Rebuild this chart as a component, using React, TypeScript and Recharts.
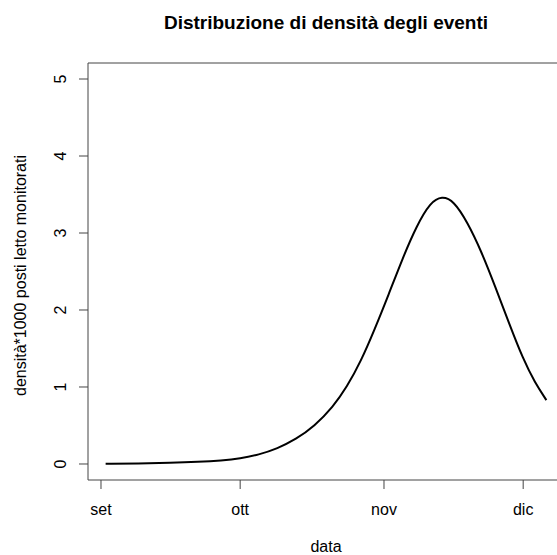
import { LineChart, Line, XAxis, YAxis, ReferenceArea } from 'recharts';

// giorni dal 1 settembre
const days = [1, 8, 15, 21, 26, 30, 34, 38, 42, 46, 50, 53, 56, 59, 62, 65, 68, 71, 73.5, 76, 79, 82, 85, 88, 91, 93.5, 96];
const density = [
  0.002, 0.006, 0.014, 0.027, 0.045, 0.07, 0.12, 0.2, 0.32, 0.49, 0.74, 1.0, 1.33, 1.75, 2.2,
  2.67, 3.09, 3.4, 3.48, 3.42, 3.14, 2.76, 2.3, 1.82, 1.36, 1.06, 0.83,
];

const monthTicks = [0, 30, 61, 91];
const monthLabels = ['set', 'ott', 'nov', 'dic'];
const yTicks = [0, 1, 2, 3, 4, 5];

const X_DOMAIN: [number, number] = [-2.8, 99.8];
const Y_DOMAIN: [number, number] = [-0.208, 5.208];

const FONT = '"Liberation Sans", Arial, sans-serif';
const AXIS = '#444';

const data = days.map((d, i) => ({ day: d, value: density[i] }));

function YTick(props: any) {
  const { x, y, payload } = props;
  return (
    <text
      x={x}
      y={y}
      transform={`rotate(-90 ${x} ${y})`}
      textAnchor="middle"
      fontFamily={FONT}
      fontSize={16}
      fill="#000"
    >
      {payload.value}
    </text>
  );
}

export default function App() {
  return (
    <div
      style={{
        position: 'absolute',
        left: 0,
        top: 0,
        width: 557,
        height: 555,
        overflow: 'hidden',
        background: '#fff',
      }}
    >
      <LineChart width={572} height={555} data={data} margin={{ top: 63, right: 8, bottom: 0, left: 0 }}>
        <ReferenceArea
          x1={X_DOMAIN[0]}
          x2={X_DOMAIN[1]}
          y1={Y_DOMAIN[0]}
          y2={Y_DOMAIN[1]}
          fill="none"
          stroke={AXIS}
          strokeWidth={1}
          ifOverflow="visible"
        />
        <XAxis
          dataKey="day"
          type="number"
          domain={X_DOMAIN}
          ticks={monthTicks}
          allowDataOverflow
          height={75}
          axisLine={false}
          tickSize={9}
          tickMargin={15}
          tickLine={{ stroke: AXIS }}
          tick={{ fontFamily: FONT, fontSize: 16, fill: '#000' }}
          tickFormatter={(v: number) => monthLabels[monthTicks.indexOf(v)] ?? ''}
          interval={0}
          label={{
            content: (p: any) => {
              const vb = p.viewBox;
              return (
                <text
                  x={vb.x + vb.width / 2}
                  y={vb.y + vb.height - 3}
                  textAnchor="middle"
                  fontFamily={FONT}
                  fontSize={16}
                  fill="#000"
                >
                  data
                </text>
              );
            },
          }}
        />
        <YAxis
          type="number"
          domain={Y_DOMAIN}
          ticks={yTicks}
          allowDataOverflow
          width={88}
          axisLine={false}
          tickSize={9}
          tickMargin={13}
          tickLine={{ stroke: AXIS }}
          tick={<YTick />}
          interval={0}
          label={{
            content: (p: any) => {
              const vb = p.viewBox;
              const cx = 26;
              const cy = vb.y + vb.height / 2 + 4;
              return (
                <text
                  x={cx}
                  y={cy}
                  transform={`rotate(-90 ${cx} ${cy})`}
                  textAnchor="middle"
                  fontFamily={FONT}
                  fontSize={16}
                  fill="#000"
                >
                  densità*1000 posti letto monitorati
                </text>
              );
            },
          }}
        />
        <Line
          dataKey="value"
          type="basis"
          stroke="#000"
          strokeWidth={2}
          dot={false}
          activeDot={false}
          isAnimationActive={false}
        />
      </LineChart>
      <svg width={557} height={40} style={{ position: 'absolute', left: 0, top: 0 }}>
        <text x={326} y={29} textAnchor="middle" fontFamily={FONT} fontSize={19} fontWeight="bold" fill="#000">
          Distribuzione di densità degli eventi
        </text>
      </svg>
    </div>
  );
}
